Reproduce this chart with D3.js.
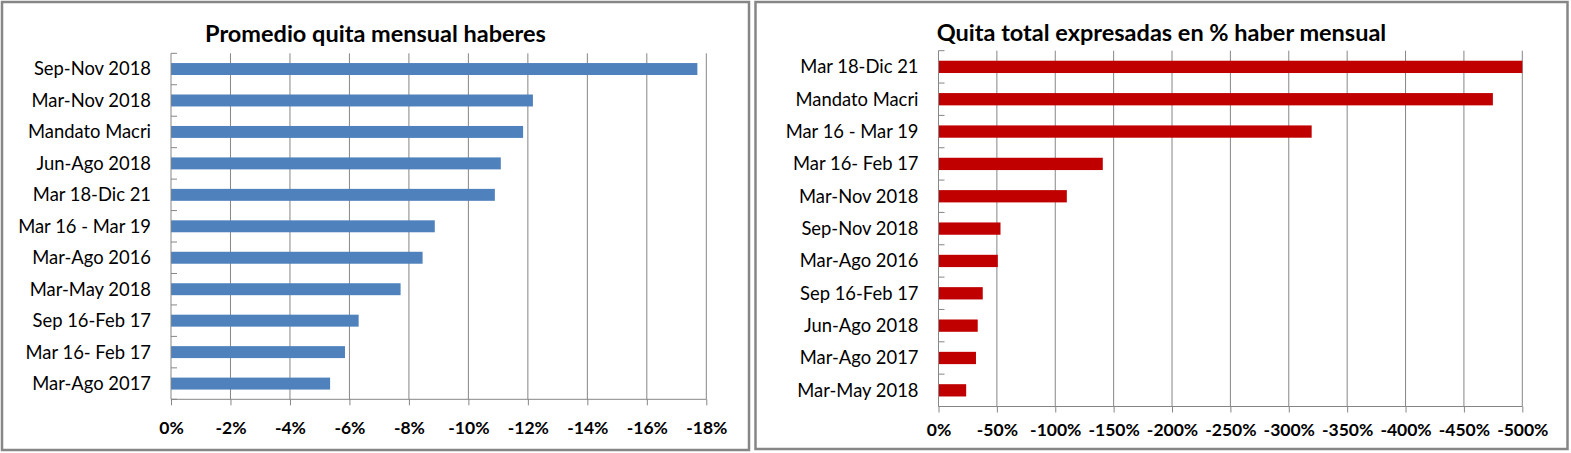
<!DOCTYPE html>
<html>
<head>
<meta charset="utf-8">
<script src="https://cdn.jsdelivr.net/npm/d3@7"></script>
<style>
  html, body { margin: 0; padding: 0; background: #fff; }
  svg { display: block; }
  text { font-family: Lato, "Open Sans", sans-serif; fill: #000; }
</style>
</head>
<body>
<div id="chart"></div>
<script>
// left chart: average monthly cut
var leftCategories = ["Sep-Nov 2018", "Mar-Nov 2018", "Mandato Macri", "Jun-Ago 2018", "Mar 18-Dic 21",
    "Mar 16 - Mar 19", "Mar-Ago 2016", "Mar-May 2018", "Sep 16-Feb 17", "Mar 16- Feb 17", "Mar-Ago 2017"];
var leftValues = [-17.7, -12.17, -11.84, -11.09, -10.89, -8.87, -8.46, -7.72, -6.31, -5.85, -5.35];
var leftTicks = [0, -2, -4, -6, -8, -10, -12, -14, -16, -18];

// right chart: total cut as % of monthly salary
var rightCategories = ["Mar 18-Dic 21", "Mandato Macri", "Mar 16 - Mar 19", "Mar 16- Feb 17", "Mar-Nov 2018",
    "Sep-Nov 2018", "Mar-Ago 2016", "Sep 16-Feb 17", "Jun-Ago 2018", "Mar-Ago 2017", "Mar-May 2018"];
var rightValues = [-500, -474.8, -319.6, -140.7, -109.9, -53.1, -50.8, -37.9, -33.6, -32.1, -23.7];
var rightTicks = [0, -50, -100, -150, -200, -250, -300, -350, -400, -450, -500];

var svg = d3.select("#chart")
    .append("svg")
    .attr("width", 1571)
    .attr("height", 453);

function drawPanel(p) {
    var g = svg.append("g");

    g.append("rect")
        .attr("x", p.box[0])
        .attr("y", p.box[1])
        .attr("width", p.box[2])
        .attr("height", p.box[3])
        .attr("fill", "#fff")
        .attr("stroke", "#868686")
        .attr("stroke-width", 2.5);

    g.append("text")
        .attr("x", p.box[0] + p.box[2] / 2)
        .attr("y", p.titleY)
        .attr("dy", "0.35em")
        .attr("text-anchor", "middle")
        .style("font-weight", "bold")
        .style("font-size", "23.5px")
        .text(p.title);

    var x = d3.scaleLinear()
        .domain([p.ticks[0], p.ticks[p.ticks.length - 1]])
        .range([p.x0, p.x1]);

    var y = d3.scaleBand()
        .domain(p.categories)
        .range([p.y0, p.y1])
        .paddingInner(0.62)
        .paddingOuter(0.31);

    // vertical gridlines
    g.append("g")
        .selectAll("line")
        .data(p.ticks.slice(1))
        .enter().append("line")
        .attr("x1", function(d) { return x(d); })
        .attr("x2", function(d) { return x(d); })
        .attr("y1", p.y0)
        .attr("y2", p.y1)
        .attr("stroke", "#868686")
        .attr("stroke-width", 1);

    // bars
    g.append("g")
        .selectAll("rect")
        .data(p.values)
        .enter().append("rect")
        .attr("x", x(0))
        .attr("y", function(d, i) { return y(p.categories[i]); })
        .attr("width", function(d) { return x(d) - x(0); })
        .attr("height", y.bandwidth())
        .attr("fill", p.color);

    // category axis with inner ticks at band boundaries
    var step = y.step();
    var bounds = d3.range(p.categories.length + 1).map(function(i) { return p.y0 + i * step; });
    g.append("g")
        .selectAll("line")
        .data(bounds)
        .enter().append("line")
        .attr("x1", p.x0)
        .attr("x2", p.x0 + 6)
        .attr("y1", function(d) { return d; })
        .attr("y2", function(d) { return d; })
        .attr("stroke", "#868686");
    g.append("line")
        .attr("x1", p.x0).attr("x2", p.x0)
        .attr("y1", p.y0).attr("y2", p.y1)
        .attr("stroke", "#868686");
    g.append("g")
        .selectAll("text")
        .data(p.categories)
        .enter().append("text")
        .attr("x", p.x0 - 20)
        .attr("y", function(d) { return y(d) + y.bandwidth() / 2; })
        .attr("dy", "0.35em")
        .attr("text-anchor", "end")
        .style("font-size", "18.4px")
        .text(function(d) { return d; });

    // value axis
    var xAxis = d3.axisBottom(x)
        .tickValues(p.ticks)
        .tickSize(6)
        .tickPadding(p.pad)
        .tickFormat(function(d) { return d + "%"; });
    var ax = g.append("g")
        .attr("transform", "translate(0," + p.y1 + ")")
        .call(xAxis);
    ax.select(".domain").attr("stroke", "#868686").attr("d", "M" + p.x0 + ",0H" + p.x1);
    ax.selectAll(".tick line").attr("stroke", "#868686");
    ax.selectAll(".tick text")
        .attr("fill", "#000")
        .style("font-family", "Lato, sans-serif")
        .style("font-weight", "bold")
        .style("font-size", "17.5px");
}

drawPanel({
    box: [2, 2, 747, 448],
    title: "Promedio quita mensual haberes",
    titleY: 34,
    categories: leftCategories,
    values: leftValues,
    ticks: leftTicks,
    color: "#4F81BD",
    x0: 171, x1: 706.3,
    y0: 53.3, y1: 399.3,
    pad: 16
});

drawPanel({
    box: [755.5, 2, 812, 447],
    title: "Quita total expresadas en % haber mensual",
    titleY: 33,
    categories: rightCategories,
    values: rightValues,
    ticks: rightTicks,
    color: "#C00000",
    x0: 938.5, x1: 1522.3,
    y0: 50.7, y1: 406.5,
    pad: 11
});
</script>
</body>
</html>
